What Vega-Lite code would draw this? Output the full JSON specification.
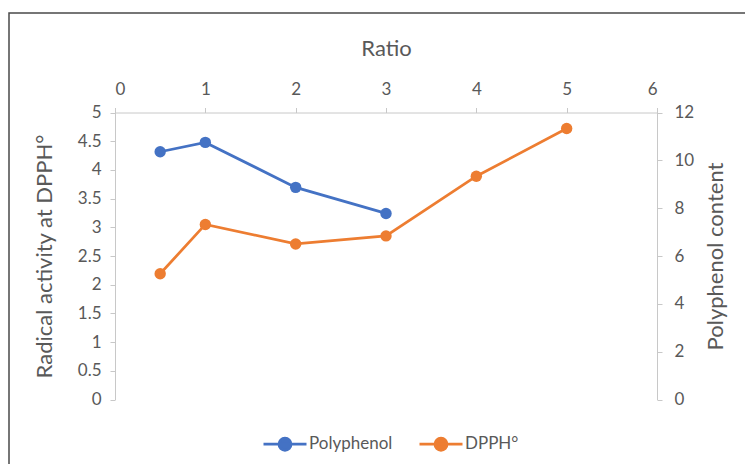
{
  "$schema": "https://vega.github.io/schema/vega-lite/v6.json",
  "width": 745,
  "height": 460,
  "autosize": {"type": "none"},
  "padding": {"left": 9, "top": 13, "right": 0, "bottom": 0},
  "background": "white",
  "datasets": {
    "polyphenol": [
      {"ratio": 0.5, "content": 10.36, "series": "Polyphenol"},
      {"ratio": 1, "content": 10.75, "series": "Polyphenol"},
      {"ratio": 2, "content": 8.87, "series": "Polyphenol"},
      {"ratio": 3, "content": 7.78, "series": "Polyphenol"}
    ],
    "dpph": [
      {"ratio": 0.5, "activity": 2.19, "series": "DPPH°"},
      {"ratio": 1, "activity": 3.05, "series": "DPPH°"},
      {"ratio": 2, "activity": 2.71, "series": "DPPH°"},
      {"ratio": 3, "activity": 2.85, "series": "DPPH°"},
      {"ratio": 4, "activity": 3.89, "series": "DPPH°"},
      {"ratio": 5, "activity": 4.72, "series": "DPPH°"}
    ]
  },
  "layer": [
    {
      "data": {"name": "polyphenol"},
      "mark": {"type": "line", "strokeWidth": 2.75, "point": {"filled": true, "size": 130, "opacity": 1}},
      "encoding": {
        "x": {
          "field": "ratio", "type": "quantitative",
          "scale": {"domain": [0, 6], "range": [106, 648], "nice": false, "zero": false},
          "axis": {"orient": "top", "offset": -99.5, "values": [0, 1, 2, 3, 4, 5, 6], "title": "Ratio", "labelPadding": 9, "titlePadding": 20}
        },
        "y": {
          "field": "content", "type": "quantitative",
          "scale": {"domain": [0, 12], "range": [386.5, 99.5], "nice": false},
          "axis": {"orient": "right", "offset": -97, "values": [0, 2, 4, 6, 8, 10, 12], "title": "Polyphenol content", "titleAngle": -90, "titleBaseline": "top", "labelPadding": 12, "titlePadding": 12}
        },
        "color": {
          "field": "series", "type": "nominal",
          "scale": {"domain": ["Polyphenol", "DPPH°"], "range": ["#4472C4", "#ED7D31"]},
          "legend": {
            "orient": "none", "legendX": 253, "legendY": 408, "direction": "horizontal", "title": null,
            "symbolType": "M-1,0L1,0M-0.28,0A0.28,0.28,0,1,0,0.28,0A0.28,0.28,0,1,0,-0.28,0Z",
            "symbolSize": 1849, "symbolStrokeWidth": 2.75,
            "labelFont": "Lato", "labelFontSize": 17, "labelColor": "#595959",
            "labelOffset": 1, "columnPadding": 21,
            "encode": {"symbols": {"update": {"fill": {"scale": "color", "field": "value"}, "stroke": {"scale": "color", "field": "value"}, "opacity": {"value": 1}}}}
          }
        }
      }
    },
    {
      "data": {"name": "dpph"},
      "mark": {"type": "line", "strokeWidth": 2.75, "point": {"filled": true, "size": 130, "opacity": 1}},
      "encoding": {
        "x": {
          "field": "ratio", "type": "quantitative",
          "scale": {"domain": [0, 6], "range": [106, 648], "nice": false, "zero": false},
          "axis": {"orient": "top", "offset": -99.5, "values": [0, 1, 2, 3, 4, 5, 6], "title": "Ratio", "labelPadding": 9, "titlePadding": 20}
        },
        "y": {
          "field": "activity", "type": "quantitative",
          "scale": {"domain": [0, 5], "range": [386.5, 99.5], "nice": false},
          "axis": {"orient": "left", "offset": -106, "values": [0, 0.5, 1, 1.5, 2, 2.5, 3, 3.5, 4, 4.5, 5], "format": "~g", "title": "Radical activity at DPPH°", "labelPadding": 9, "titlePadding": 21}
        },
        "color": {"field": "series", "type": "nominal"}
      }
    }
  ],
  "resolve": {"scale": {"y": "independent"}, "axis": {"y": "independent"}},
  "config": {
    "view": {"stroke": "#4a4a4a", "strokeWidth": 1.5},
    "axis": {
      "grid": false,
      "domainColor": "#C8C8C8",
      "tickColor": "#C8C8C8",
      "tickSize": 5,
      "labelFont": "Lato",
      "labelFontSize": 17,
      "labelColor": "#595959",
      "titleFont": "Lato",
      "titleFontSize": 22,
      "titleFontWeight": "normal",
      "titleColor": "#595959"
    }
  }
}
